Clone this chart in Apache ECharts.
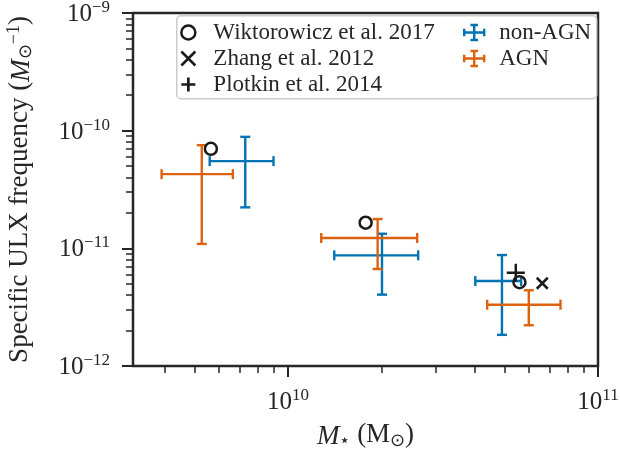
<!DOCTYPE html>
<html>
<head>
<meta charset="utf-8">
<script src="https://cdn.jsdelivr.net/npm/echarts@6/dist/echarts.min.js"></script>
<style>
html,body{margin:0;padding:0;background:#fff;}
#chart{width:620px;height:450px;}
</style>
</head>
<body>
<div id="chart"></div>
<script>
// ---------- data ----------
// non-AGN galaxies: stellar mass (Msun) and specific ULX frequency (Msun^-1)
const nonAgnMass      = [7.28e9, 2.01e10, 4.90e10];
const nonAgnMassLow   = [5.59e9, 1.41e10, 4.02e10];
const nonAgnMassHigh  = [8.98e9, 2.63e10, 5.65e10];
const nonAgnFreq      = [5.51e-11, 8.72e-12, 5.28e-12];
const nonAgnFreqLow   = [2.23e-11, 4.04e-12, 1.84e-12];
const nonAgnFreqHigh  = [8.86e-11, 1.33e-11, 8.77e-12];

// AGN galaxies
const agnMass      = [5.27e9, 1.946e10, 5.98e10];
const agnMassLow   = [3.91e9, 1.28e10, 4.39e10];
const agnMassHigh  = [6.64e9, 2.61e10, 7.57e10];
const agnFreq      = [4.27e-11, 1.224e-11, 3.32e-12];
const agnFreqLow   = [1.09e-11, 6.67e-12, 2.22e-12];
const agnFreqHigh  = [7.53e-11, 1.774e-11, 4.40e-12];

// literature comparison points
const wiktorowiczMass = [5.64e9, 1.78e10, 5.58e10];
const wiktorowiczFreq = [7.01e-11, 1.65e-11, 5.15e-12];
const zhangMass = [6.61e10];
const zhangFreq = [5.05e-12];
const plotkinMass = [5.43e10];
const plotkinFreq = [6.21e-12];

// axes
const xRange = [3.1623e9, 1e11];
const yRange = [1e-12, 1e-9];
const xMajorTicks = [1e10, 1e11];
const yMajorTicks = [1e-12, 1e-11, 1e-10, 1e-9];
const minorMultipliers = [2, 3, 4, 5, 6, 7, 8, 9];

const seriesNames = ['Wiktorowicz et al. 2017', 'Zhang et al. 2012', 'Plotkin et al. 2014', 'non-AGN', 'AGN'];

// ---------- helpers ----------
const L = Math.log10;
function minorTicks(range) {
  const out = [];
  const lo = Math.floor(L(range[0])), hi = Math.ceil(L(range[1]));
  for (let e = lo; e < hi; e++) {
    minorMultipliers.forEach(m => {
      const v = m * Math.pow(10, e);
      if (v >= range[0] * 0.9999 && v <= range[1] * 1.0001) out.push(L(v));
    });
  }
  return out;
}
function powLabel(v) {
  const e = Math.round(v);
  return '{b|10}{s|' + String(e).replace('-', '\u2212') + '}';
}
function errRows(m, mlo, mhi, f, flo, fhi) {
  return m.map((_, i) => [L(m[i]), L(f[i]), L(mlo[i]), L(mhi[i]), L(flo[i]), L(fhi[i])]);
}
function pts(m, f) { return m.map((_, i) => [L(m[i]), L(f[i])]); }

const FONT = 'Liberation Serif';
const INK = '#262626';
const BLUE = '#0173b2';
const ORANGE = '#dc6210';
const MARK = '#1a1a1a';
const CAP = 5;

function renderErr(color) {
  return function (params, api) {
    const c = api.coord([api.value(0), api.value(1)]);
    const xl = api.coord([api.value(2), api.value(1)]);
    const xh = api.coord([api.value(3), api.value(1)]);
    const yl = api.coord([api.value(0), api.value(4)]);
    const yh = api.coord([api.value(0), api.value(5)]);
    const st = { stroke: color, lineWidth: 2.4 };
    const line = (x1, y1, x2, y2) => ({ type: 'line', shape: { x1, y1, x2, y2 }, style: st });
    return {
      type: 'group',
      children: [
        line(xl[0], c[1], xh[0], c[1]),
        line(c[0], yl[1], c[0], yh[1]),
        line(xl[0], c[1] - CAP, xl[0], c[1] + CAP),
        line(xh[0], c[1] - CAP, xh[0], c[1] + CAP),
        line(c[0] - CAP, yl[1], c[0] + CAP, yl[1]),
        line(c[0] - CAP, yh[1], c[0] + CAP, yh[1])
      ]
    };
  };
}

const richLabel = {
  b: { fontFamily: FONT, fontSize: 25, color: INK, lineHeight: 28, verticalAlign: 'bottom' },
  s: { fontFamily: FONT, fontSize: 17, color: INK, lineHeight: 17, verticalAlign: 'top' }
};

const ERR_ICON = 'path://M0,6L16,6M8,0L8,12M0,3L0,9M16,3L16,9M5,0L11,0M5,12L11,12';
const X_ICON = 'path://M0,0L10,10M10,0L0,10';
const PLUS_ICON = 'path://M0,5L10,5M5,0L5,10';
const NAME_SIZE = 27;

const chart = echarts.init(document.getElementById('chart'), null, { renderer: 'canvas' });
const option = {
  animation: false,
  backgroundColor: '#fff',
  grid: {
    left: 133, right: 22, top: 13, bottom: 84,
    outerBoundsMode: 'none', containLabel: false,
    show: true, borderColor: INK, borderWidth: 2.5, backgroundColor: 'transparent'
  },
  xAxis: [
    {
      type: 'value', min: L(xRange[0]), max: L(xRange[1]), position: 'bottom',
      axisLine: { show: false },
      splitLine: { show: false },
      axisTick: { show: true, inside: false, length: 11, lineStyle: { color: INK, width: 2 }, customValues: xMajorTicks.map(L) },
      axisLabel: { show: true, margin: 21, formatter: powLabel, rich: richLabel, customValues: xMajorTicks.map(L) },
      name: '{i|M}{sub|\u22c6} (M{sub|\u2299})',
      nameLocation: 'middle', nameGap: 54,
      nameTextStyle: {
        fontFamily: FONT, fontSize: NAME_SIZE, color: INK,
        rich: {
          i: { fontFamily: FONT, fontSize: NAME_SIZE, fontStyle: 'italic', color: INK, lineHeight: 30, verticalAlign: 'bottom' },
          sub: { fontFamily: FONT, fontSize: 18, color: INK, lineHeight: 14, verticalAlign: 'bottom' }
        }
      }
    },
    {
      type: 'value', min: L(xRange[0]), max: L(xRange[1]), position: 'bottom',
      axisLine: { show: false }, splitLine: { show: false },
      axisTick: { show: true, inside: false, length: 7, lineStyle: { color: INK, width: 1.5 }, customValues: minorTicks(xRange) },
      axisLabel: { show: false }
    }
  ],
  yAxis: [
    {
      type: 'value', min: L(yRange[0]), max: L(yRange[1]), position: 'left',
      axisLine: { show: false }, splitLine: { show: false },
      axisTick: { show: true, inside: false, length: 11, lineStyle: { color: INK, width: 2 }, customValues: yMajorTicks.map(L) },
      axisLabel: { show: true, margin: 23, formatter: powLabel, rich: richLabel, customValues: yMajorTicks.map(L) },
      name: 'Specific ULX frequency ({i|M}{sub|\u2299}{sup|\u22121})',
      nameLocation: 'middle', nameGap: 98, nameRotate: 90,
      nameTextStyle: {
        fontFamily: FONT, fontSize: NAME_SIZE, color: INK,
        rich: {
          i: { fontFamily: FONT, fontSize: NAME_SIZE, fontStyle: 'italic', color: INK, lineHeight: 30, verticalAlign: 'bottom' },
          sub: { fontFamily: FONT, fontSize: 18, color: INK, lineHeight: 14, verticalAlign: 'bottom' },
          sup: { fontFamily: FONT, fontSize: 18, color: INK, lineHeight: 16, verticalAlign: 'top' }
        }
      }
    },
    {
      type: 'value', min: L(yRange[0]), max: L(yRange[1]), position: 'left',
      axisLine: { show: false }, splitLine: { show: false },
      axisTick: { show: true, inside: false, length: 7, lineStyle: { color: INK, width: 1.5 }, customValues: minorTicks(yRange) },
      axisLabel: { show: false }
    }
  ],
  graphic: [{
    type: 'rect', left: 176, top: 15, z: 3,
    shape: { width: 420, height: 83, r: 4 },
    style: { fill: 'rgba(255,255,255,0.85)', stroke: '#cccccc', lineWidth: 1.5 }
  }],
  legend: [
    {
      orient: 'vertical', left: 180, top: 21, padding: 0, itemGap: 3,
      itemWidth: 14, itemHeight: 14, z: 4,
      textStyle: { fontFamily: FONT, fontSize: 23, color: INK, lineHeight: 20, padding: [0, 0, 0, 13] },
      data: [
        { name: seriesNames[0], icon: 'circle', itemStyle: { color: 'rgba(0,0,0,0)', borderColor: MARK, borderWidth: 2.5 } },
        { name: seriesNames[1], icon: X_ICON, itemStyle: { color: 'rgba(0,0,0,0)', borderColor: MARK, borderWidth: 2.5 } },
        { name: seriesNames[2], icon: PLUS_ICON, itemStyle: { color: 'rgba(0,0,0,0)', borderColor: MARK, borderWidth: 2.7 } }
      ]
    },
    {
      orient: 'vertical', left: 463, top: 21, padding: 0, itemGap: 3,
      itemWidth: 20, itemHeight: 15, z: 4,
      textStyle: { fontFamily: FONT, fontSize: 23, color: INK, lineHeight: 20, padding: [0, 0, 0, 10] },
      data: [
        { name: seriesNames[3], icon: ERR_ICON, itemStyle: { color: 'rgba(0,0,0,0)', borderColor: BLUE, borderWidth: 2.4 } },
        { name: seriesNames[4], icon: ERR_ICON, itemStyle: { color: 'rgba(0,0,0,0)', borderColor: ORANGE, borderWidth: 2.4 } }
      ]
    }
  ],
  series: [
    {
      name: seriesNames[3], type: 'custom', xAxisIndex: 0, yAxisIndex: 0, z: 2,
      itemStyle: { color: BLUE },
      renderItem: renderErr(BLUE),
      encode: { x: [0, 2, 3], y: [1, 4, 5] },
      data: errRows(nonAgnMass, nonAgnMassLow, nonAgnMassHigh, nonAgnFreq, nonAgnFreqLow, nonAgnFreqHigh)
    },
    {
      name: seriesNames[4], type: 'custom', xAxisIndex: 0, yAxisIndex: 0, z: 2,
      itemStyle: { color: ORANGE },
      renderItem: renderErr(ORANGE),
      encode: { x: [0, 2, 3], y: [1, 4, 5] },
      data: errRows(agnMass, agnMassLow, agnMassHigh, agnFreq, agnFreqLow, agnFreqHigh)
    },
    {
      name: seriesNames[0], type: 'scatter', z: 3, symbol: 'circle', symbolSize: 12,
      itemStyle: { color: 'rgba(0,0,0,0)', borderColor: MARK, borderWidth: 2.5, opacity: 1 },
      data: pts(wiktorowiczMass, wiktorowiczFreq)
    },
    {
      name: seriesNames[1], type: 'scatter', z: 3, symbol: X_ICON, symbolSize: 11,
      itemStyle: { color: 'rgba(0,0,0,0)', borderColor: MARK, borderWidth: 2.5, opacity: 1 },
      data: pts(zhangMass, zhangFreq)
    },
    {
      name: seriesNames[2], type: 'scatter', z: 3, symbol: PLUS_ICON, symbolSize: 18,
      itemStyle: { color: 'rgba(0,0,0,0)', borderColor: MARK, borderWidth: 2.5, opacity: 1 },
      data: pts(plotkinMass, plotkinFreq)
    }
  ]
};
chart.setOption(option);
</script>
</body>
</html>
